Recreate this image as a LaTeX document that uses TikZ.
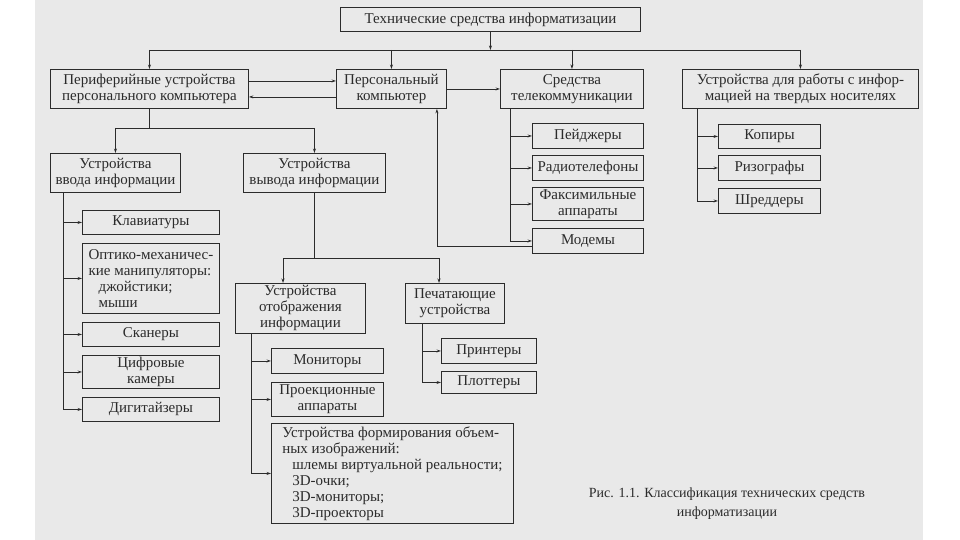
\documentclass[tikz,border=0pt]{standalone}
\usepackage{fontspec}
\setmainfont{Liberation Serif}
\usetikzlibrary{positioning,arrows.meta}
\definecolor{scan}{HTML}{E9E9E9}
\definecolor{ink}{HTML}{2B2B2B}

\begin{document}
\begin{tikzpicture}[x=1pt,y=-1pt,
  font=\fontsize{15}{16}\selectfont,
  box/.style={draw=ink,text=ink,line width=0.9pt,align=center,inner sep=1pt,anchor=north west},
  lbox/.style={box,align=left,inner xsep=3pt},
  arr/.style={-{Stealth[length=4.5pt,width=3pt]},draw=ink,line width=0.8pt},
  ln/.style={draw=ink,line width=0.8pt}]
  \useasboundingbox (0,0) rectangle (960,540);
  \fill[white] (0,0) rectangle (960,540);
  \fill[scan] (35,0) rectangle (923,540);

  % top level
  \node[box,minimum width=300pt,minimum height=24pt] (tech) at (340,7) {Технические средства информатизации};
  \node[box,minimum width=198pt,minimum height=39pt] (periph) at (50,69) {Периферийные устройства\\персонального компьютера};
  \node[box,minimum width=110pt,minimum height=39pt] (pc) at (336,69) {Персональный\\компьютер};
  \node[box,minimum width=143pt,minimum height=39pt] (telecom) at (500,69) {Средства\\телекоммуникации};
  \node[box,minimum width=236pt,minimum height=39pt] (media) at (682,69) {Устройства для работы с инфор-\\мацией на твердых носителях};

  % input / output
  \node[box,minimum width=130pt,minimum height=39pt] (input) at (50,153) {Устройства\\ввода информации};
  \node[box,minimum width=142pt,minimum height=39pt] (output) at (243,153) {Устройства\\вывода информации};

  \node[box,minimum width=137pt,minimum height=24pt] (kbd) at (82,210) {Клавиатуры};
  \node[lbox,minimum width=137pt,minimum height=70pt] (optic) at (82,243) {Оптико-механичес-\\кие манипуляторы:\\\hspace{10pt}джойстики;\\\hspace{10pt}мыши};
  \node[box,minimum width=137pt,minimum height=24pt] (scan) at (82,322) {Сканеры};
  \node[box,minimum width=137pt,minimum height=33pt] (cam) at (82,355) {Цифровые\\камеры};
  \node[box,minimum width=137pt,minimum height=24pt] (digit) at (82,397) {Дигитайзеры};

  \node[box,minimum width=130pt,minimum height=50pt] (display) at (235,283) {Устройства\\отображения\\информации};
  \node[box,minimum width=99pt,minimum height=40pt] (print) at (405,283) {Печатающие\\устройства};

  \node[box,minimum width=112pt,minimum height=25pt] (mon) at (271,348) {Мониторы};
  \node[box,minimum width=112pt,minimum height=34pt] (proj) at (271,382) {Проекционные\\аппараты};
  \node[lbox,minimum width=242pt,minimum height=100pt] (vol) at (271,423) {Устройства формирования объем-\\ных изображений:\\\hspace{10pt}шлемы виртуальной реальности;\\\hspace{10pt}3D-очки;\\\hspace{10pt}3D-мониторы;\\\hspace{10pt}3D-проекторы};

  \node[box,minimum width=95pt,minimum height=25pt] (printer) at (441,338) {Принтеры};
  \node[box,minimum width=95pt,minimum height=22pt] (plotter) at (441,371) {Плоттеры};

  % telecom / media
  \node[box,minimum width=111pt,minimum height=25pt] (pager) at (532,123) {Пейджеры};
  \node[box,minimum width=111pt,minimum height=25pt] (radio) at (532,155) {Радиотелефоны};
  \node[box,minimum width=111pt,minimum height=33pt] (fax) at (532,187) {Факсимильные\\аппараты};
  \node[box,minimum width=111pt,minimum height=25pt] (modem) at (532,228) {Модемы};

  \node[box,minimum width=102pt,minimum height=24pt] (copier) at (718,124) {Копиры};
  \node[box,minimum width=102pt,minimum height=25pt] (riso) at (718,155) {Ризографы};
  \node[box,minimum width=102pt,minimum height=25pt] (shred) at (718,188) {Шреддеры};

  \node[text=ink,align=center,font=\fontsize{14}{19}\selectfont] (caption) at (727,504) {Рис. 1.1. Классификация технических средств\\информатизации};

  % buses and spines
  \coordinate (bus) at (488,50);
  \coordinate (pbus) at (148,128);
  \coordinate (obusL) at (283,258);
  \coordinate (obusR) at (439,258);
  \coordinate (ispine) at (63,0);
  \coordinate (dspine) at (251,0);
  \coordinate (pspine) at (422,0);
  \coordinate (tspine) at (510,0);
  \coordinate (mspine) at (697,0);

  \draw[arr] (tech.south) -- (tech.south |- bus);
  \draw[ln] (periph.north |- bus) -- (media.north |- bus);
  \foreach \n in {periph,pc,telecom,media}
    \draw[arr] (\n.north |- bus) -- (\n.north);

  \draw[arr] ([yshift=8pt]periph.east) -- ([yshift=8pt]periph.east -| pc.west);
  \draw[arr] ([yshift=-8pt]pc.west) -- ([yshift=-8pt]pc.west -| periph.east);
  \draw[arr] (pc.east) -- (telecom.west);

  \draw[ln] (periph.south) -- (periph.south |- pbus);
  \draw[ln] (input.north |- pbus) -- (output.north |- pbus);
  \draw[arr] (input.north |- pbus) -- (input.north);
  \draw[arr] (output.north |- pbus) -- (output.north);

  \draw[ln] (input.south -| ispine) -- (ispine |- digit.west);
  \foreach \c in {kbd,optic,scan,cam,digit}
    \draw[arr] (ispine |- \c.west) -- (\c.west);

  \draw[ln] (output.south) -- (output.south |- obusL);
  \draw[ln] (obusL) -- (obusR);
  \draw[arr] (obusL) -- (obusL |- display.north);
  \draw[arr] (obusR) -- (obusR |- print.north);

  \draw[ln] (display.south -| dspine) -- (dspine |- vol.west);
  \foreach \c in {mon,proj,vol}
    \draw[arr] (dspine |- \c.west) -- (\c.west);

  \draw[ln] (print.south -| pspine) -- (pspine |- plotter.west);
  \foreach \c in {printer,plotter}
    \draw[arr] (pspine |- \c.west) -- (\c.west);

  \draw[ln] (telecom.south -| tspine) -- (tspine |- modem.west);
  \foreach \c in {pager,radio,fax,modem}
    \draw[arr] (tspine |- \c.west) -- (\c.west);
  \draw[arr] ([yshift=-5pt]modem.west) -| ([xshift=-10pt]pc.south east);

  \draw[ln] (media.south -| mspine) -- (mspine |- shred.west);
  \foreach \c in {copier,riso,shred}
    \draw[arr] (mspine |- \c.west) -- (\c.west);
\end{tikzpicture}
\end{document}
